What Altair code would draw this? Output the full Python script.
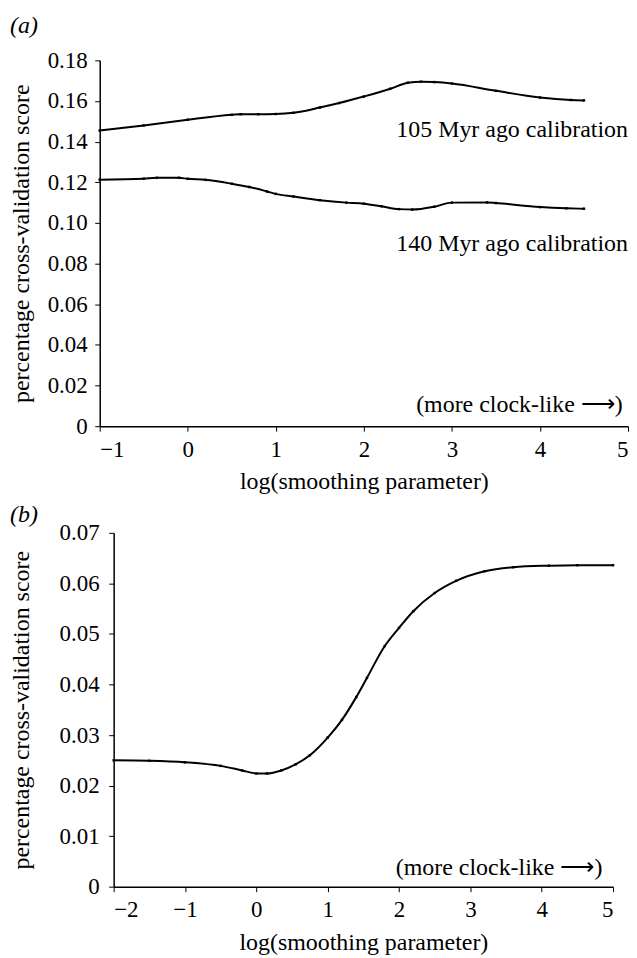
import altair as alt
import pandas as pd

FONT = "Liberation Serif"

# Panel (a): 105 Myr ago calibration
a105_x = [-1.0, -0.5, 0.0, 0.5, 0.6, 0.8, 1.0, 1.2, 1.5, 1.72, 2.0, 2.3, 2.5, 2.65, 2.8, 3.0, 3.5, 4.0, 4.35, 4.5]
a105_y = [0.1455, 0.1480, 0.1508, 0.1532, 0.1535, 0.1535, 0.1536, 0.1542, 0.1568, 0.1590, 0.1622, 0.1660, 0.1690, 0.1695, 0.1693, 0.1686, 0.1650, 0.1617, 0.1605, 0.1603]
# Panel (a): 140 Myr ago calibration
a140_x = [-1.0, -0.5, -0.35, -0.1, 0.0, 0.2, 0.5, 0.7, 0.9, 1.0, 1.2, 1.5, 1.8, 2.0, 2.2, 2.4, 2.55, 2.8, 3.0, 3.4, 3.5, 4.0, 4.3, 4.5]
a140_y = [0.1213, 0.1218, 0.1222, 0.1222, 0.1217, 0.1212, 0.1193, 0.1177, 0.1155, 0.1143, 0.1130, 0.1112, 0.1100, 0.1095, 0.1082, 0.1068, 0.1066, 0.1080, 0.1100, 0.1101, 0.1098, 0.1078, 0.1072, 0.1070]
# Panel (b)
b_x = [-2.0, -1.5, -1.0, -0.5, -0.2, 0.0, 0.15, 0.35, 0.55, 0.75, 1.0, 1.2, 1.4, 1.55, 1.8, 2.0, 2.2, 2.5, 2.8, 3.2, 3.6, 4.1, 4.5, 5.0]
b_y = [0.0250, 0.0249, 0.0246, 0.0239, 0.0230, 0.0224, 0.0224, 0.0230, 0.0242, 0.0260, 0.0295, 0.0330, 0.0375, 0.0413, 0.0476, 0.0512, 0.0545, 0.0581, 0.0605, 0.0624, 0.0632, 0.0635, 0.0636, 0.0636]

a_xticks = [-1, 0, 1, 2, 3, 4, 5]
a_yticks = [0, 0.02, 0.04, 0.06, 0.08, 0.10, 0.12, 0.14, 0.16, 0.18]
b_xticks = [-2, -1, 0, 1, 2, 3, 4, 5]
b_yticks = [0, 0.01, 0.02, 0.03, 0.04, 0.05, 0.06, 0.07]

a_labels = ["105 Myr ago calibration", "140 Myr ago calibration", "(more clock-like \u27f6)"]
a_label_x = [5.0, 5.0, 4.94]
a_label_y = [0.1455, 0.0895, 0.0103]
b_labels = ["(more clock-like \u27f6)"]
b_label_x = [4.85]
b_label_y = [0.0036]

y_title = "percentage cross-validation score"
x_title = "log(smoothing parameter)"

ylab = "datum.value == 0 ? '0' : format(datum.value, '.2f')"

df_a = pd.concat([
    pd.DataFrame({"x": a105_x, "y": a105_y, "s": "105"}),
    pd.DataFrame({"x": a140_x, "y": a140_y, "s": "140"}),
])
df_b = pd.DataFrame({"x": b_x, "y": b_y, "s": "b"})
lab_a = pd.DataFrame({"x": a_label_x, "y": a_label_y, "t": a_labels})
lab_b = pd.DataFrame({"x": b_label_x, "y": b_label_y, "t": b_labels})


def panel(df, labs, xdom, ydom, xticks, yticks, w, h, inset, title, toff, ytp, ylp):
    xs = alt.Scale(domain=xdom, nice=False, zero=False, range=[inset, w])
    ys = alt.Scale(domain=ydom, nice=False, zero=False)
    x_ax = alt.X("x:Q", scale=xs, axis=alt.Axis(values=xticks, format="d", title=x_title,
                                                 titlePadding=9, labelPadding=7))
    y_ax = alt.Y("y:Q", scale=ys, axis=alt.Axis(values=yticks, labelExpr=ylab, title=y_title,
                                                 titlePadding=ytp, labelPadding=ylp, offset=-inset))
    line = alt.Chart(df).mark_line(color="black", strokeWidth=2, interpolate="monotone").encode(
        x=x_ax, y=y_ax, detail="s:N")
    pts = alt.Chart(df).mark_point(shape="square", size=6, filled=True, color="black", opacity=1).encode(
        x=alt.X("x:Q", scale=xs), y=alt.Y("y:Q", scale=ys))
    txt = alt.Chart(labs).mark_text(align="right", baseline="middle", font=FONT, fontSize=24,
                                    color="black").encode(
        x=alt.X("x:Q", scale=xs), y=alt.Y("y:Q", scale=ys), text="t:N")
    return alt.layer(line, pts, txt).properties(
        width=w, height=h,
        title=alt.TitleParams(title, anchor="start", font=FONT, fontSize=24, fontStyle="italic",
                              fontWeight="normal", color="black", offset=toff))


pa = panel(df_a, lab_a, [-1, 5], [0, 0.18], a_xticks, a_yticks, 530, 367, 0, "(a)", 11.5, 13.25, 7.5)
pb = panel(df_b, lab_b, [-2, 5], [0, 0.07], b_xticks, b_yticks, 515, 355, 14, "(b)", -5.5, 25.25, 9.5)

chart = alt.vconcat(pa, pb, spacing=9).properties(
    padding={"left": 2, "top": 4, "right": 0, "bottom": 0}
).configure_axis(
    labelFont=FONT, titleFont=FONT, labelFontSize=23, titleFontSize=24,
    labelColor="black", titleColor="black", titleFontWeight="normal",
    domainColor="black", tickColor="black", domainWidth=1.5, tickSize=5,
    grid=False,
).configure_view(strokeWidth=0)

chart.save("out.html", embed_options={"renderer": "svg", "actions": False})
